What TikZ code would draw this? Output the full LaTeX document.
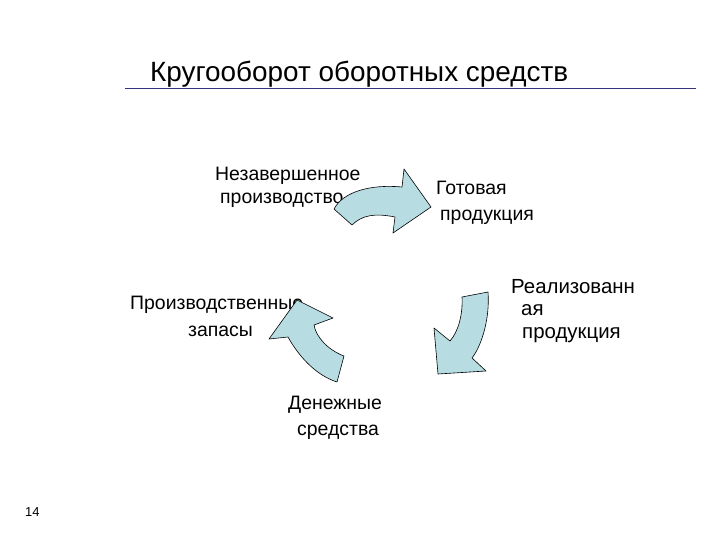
\documentclass[tikz,border=0pt]{standalone}
\usepackage{fontspec}
\setmainfont{Liberation Sans}
\definecolor{arrowfill}{RGB}{183,221,226}
\definecolor{rulecol}{RGB}{51,51,128}
\begin{document}
\begin{tikzpicture}[x=1bp,y=-1bp,
  lbl/.style={anchor=base west,inner sep=0pt,font=\fontsize{19.5}{22}\selectfont},
  lblb/.style={anchor=base west,inner sep=0pt,font=\fontsize{19.5}{22}\selectfont},
  lblc/.style={anchor=base west,inner sep=0pt,font=\fontsize{20.5}{22}\selectfont},
  cyc/.style={draw=black,line width=0.6pt,fill=arrowfill,line join=round}]
\useasboundingbox (0,0) rectangle (720,540);
% title
\node[anchor=base west,inner sep=0pt,font=\fontsize{28}{30}\selectfont] (title) at (150,82) {Кругооборот оборотных средств};
\coordinate (ruleL) at (125,88.5);
\coordinate (ruleR) at (696,88.5);
\draw[rulecol,line width=2pt] (ruleL) -- (ruleR);
% labels
\node[lbl] (n1) at (215,181) {Незавершенное};
\node[lbl] (n1b) at (220,204) {производство};
\node[lblb] (g1) at (436,195) {Готовая};
\node[lblb] (g1b) at (440,221) {продукция};
\node[lblc] (r1) at (511,293) {Реализованн};
\node[lblc] (r1b) at (521,315) {ая};
\node[lblc] (r1c) at (522,338) {продукция};
\node[lblb] (p1) at (130,309) {Производственные};
\node[lblb] (p1b) at (188,336) {запасы};
\node[lblb] (d1) at (288,409) {Денежные};
\node[lblb] (d1b) at (297,435) {средства};
\node[anchor=base west,inner sep=0pt,font=\fontsize{13}{15}\selectfont] (pg) at (25,516) {14};
% arrows
\draw[cyc] (334,209) .. controls (343,192) and (370,184) .. (402,187) -- (404,169) -- (431,207) -- (393,233) -- (395,217) .. controls (375,213) and (362,215) .. (352,225) -- cycle;
\draw[cyc] (462,297) -- (488,292) .. controls (490,318) and (482,345) .. (472,358) -- (486,371) -- (438,374) -- (434,328) -- (450,341) .. controls (458,332) and (463,315) .. (462,297) -- cycle;
\draw[cyc] (344,356) -- (337,382) .. controls (315,375) and (298,355) .. (288,337) -- (269,339) -- (297,300) -- (333,318) -- (314,325) .. controls (316,337) and (328,350) .. (344,356) -- cycle;
\end{tikzpicture}
\end{document}
